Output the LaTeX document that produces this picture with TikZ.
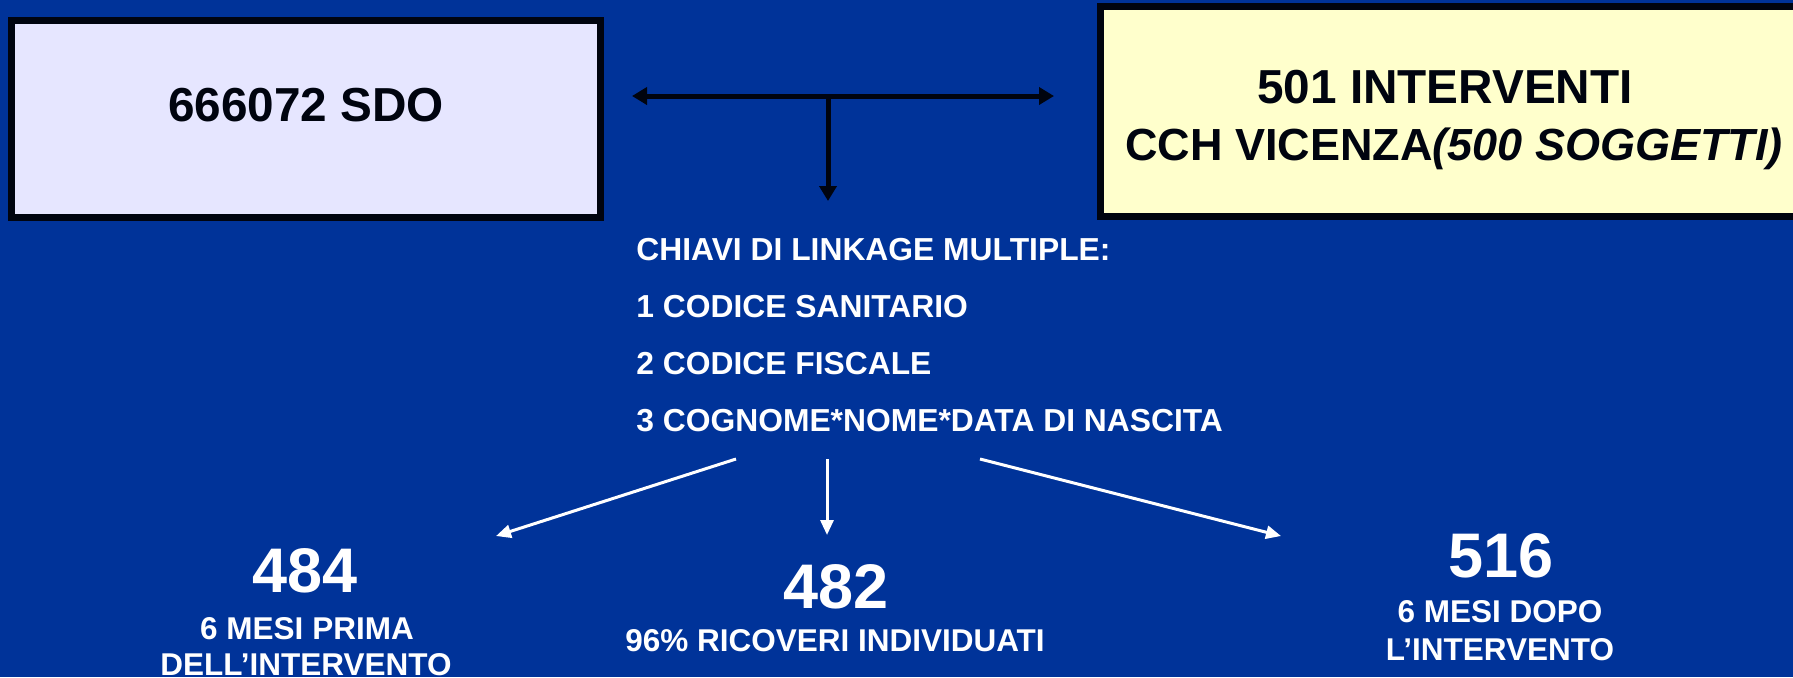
\documentclass[tikz,border=0pt]{standalone}
\usepackage{fontspec}
\setmainfont{Liberation Sans}
\usetikzlibrary{arrows.meta}
\definecolor{bgblue}{HTML}{003399}
\definecolor{lavbox}{HTML}{E6E6FF}
\definecolor{yelbox}{HTML}{FFFFCC}
\definecolor{darkline}{HTML}{00040F}
\tikzset{
  bigtxt/.style={inner sep=0pt, anchor=base, text=darkline, font=\fontsize{23.85}{28}\selectfont\bfseries},
  keytxt/.style={inner sep=0pt, anchor=base west, text=white, font=\fontsize{15.9}{18}\selectfont\bfseries},
  numtxt/.style={inner sep=0pt, anchor=base, text=white, font=\fontsize{31.5}{36}\selectfont\bfseries},
  smalltxt/.style={inner sep=0pt, anchor=base, text=white, font=\fontsize{15.75}{18}\selectfont\bfseries},
  boxframe/.style={draw=darkline, line width=3.5pt},
  darkarrow/.style={draw=darkline, line width=2.5pt, -{Triangle[length=7.5pt,width=8.5pt]}},
  darkdouble/.style={draw=darkline, line width=2.5pt, {Triangle[length=7.5pt,width=8.5pt]}-{Triangle[length=7.5pt,width=8.5pt]}},
  whitearrow/.style={draw=white, line width=1.5pt, -{Triangle[length=7.5pt,width=6.5pt]}}
}
\begin{document}
\begin{tikzpicture}[x=0.5pt,y=-0.5pt]
\useasboundingbox (0,0) rectangle (1793,677);
\fill[bgblue] (0,0) rectangle (1793,677);
\begin{scope}
\clip (0,0) rectangle (1793,677);
% left box
\path[boxframe, fill=lavbox] (11.5,20.5) rectangle (600.5,217.5);
% right box (extends beyond the right edge)
\path[boxframe, fill=yelbox] (1100.5,6.5) rectangle (1810,216.5);
\end{scope}
\node[bigtxt] (sdo) at (306,121) {666072 SDO};
\node[bigtxt] (int1) at (1445,103) {501 INTERVENTI};
\node[bigtxt, font=\fontsize{22.5}{26}\selectfont\bfseries] (int2) at (1454,160) {CCH VICENZA\textit{(500 SOGGETTI)}};
% top connectors
\coordinate (hl) at (632,96);
\coordinate (hr) at (1054,96);
\coordinate (hm) at (828,96);
\coordinate (vb) at (828,201);
\draw[darkdouble] (hl) -- (hr);
\draw[darkarrow] (hm) -- (vb);
% keys
\node[keytxt] (k0) at (636,260) {CHIAVI DI LINKAGE MULTIPLE:};
\node[keytxt] (k1) at (636,317) {1 CODICE SANITARIO};
\node[keytxt] (k2) at (636,374) {2 CODICE FISCALE};
\node[keytxt] (k3) at (636,431) {3 COGNOME*NOME*DATA DI NASCITA};
% bottom arrows
\coordinate (sl) at (736,459);
\coordinate (sm) at (827,459);
\coordinate (sr) at (980,459);
\coordinate (el) at (496,536);
\coordinate (em) at (827,535);
\coordinate (er) at (1281,536);
\draw[whitearrow] (sl) -- (el);
\draw[whitearrow] (sm) -- (em);
\draw[whitearrow] (sr) -- (er);
% results
\node[numtxt] (n484) at (305,592) {484};
\node[smalltxt] (t484a) at (307,639) {6 MESI PRIMA};
\node[smalltxt] (t484b) at (306,675) {DELL’INTERVENTO};
\node[numtxt] (n482) at (836,608) {482};
\node[smalltxt] (t482) at (835,651) {96\% RICOVERI INDIVIDUATI};
\node[numtxt] (n516) at (1501,577) {516};
\node[smalltxt] (t516a) at (1500,622) {6 MESI DOPO};
\node[smalltxt] (t516b) at (1500,660) {L’INTERVENTO};
\end{tikzpicture}
\end{document}
